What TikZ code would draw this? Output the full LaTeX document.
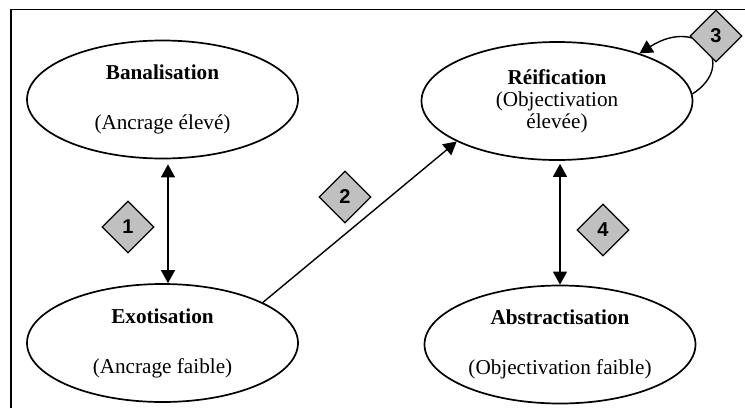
\documentclass[tikz,border=0pt]{standalone}
\usepackage{fontspec}
\setmainfont{Liberation Serif}
\newfontfamily\numfont{Liberation Sans}
\usepackage{tikz}
\usetikzlibrary{shapes}
\usetikzlibrary{arrows.meta}
\definecolor{gray}{RGB}{192,192,192}

\begin{document}
\begin{tikzpicture}[x=0.5pt,y=-0.5pt,>={Triangle[length=6.5pt,width=7pt]},
state/.style={ellipse,draw,line width=0.85pt,minimum width=135.5pt,minimum height=59pt,inner sep=0pt,align=center,font=\fontsize{10.6}{11}\selectfont},
num/.style={diamond,draw,fill=gray,line width=0.6pt,minimum width=26pt,minimum height=26pt,inner sep=0pt,font=\numfont\bfseries\fontsize{10}{10}\selectfont},
link/.style={line width=0.7pt}]

\useasboundingbox (0,0) rectangle (745,408);
\draw [line width=0.75pt] (11,408)-- (11,9.5)-- (745,9.5);

\node [state] (banal) at (162.5,99.5) {\textbf{Banalisation}\\[14pt](Ancrage élevé)};
\node [state] (exot) at (162.5,343) {\textbf{Exotisation}\\[14pt](Ancrage faible)};
\node [state] (reif) at (557,101) {\textbf{Réification}\\(Objectivation\\élevée)};
\node [state] (abst) at (560,344.5) {\textbf{Abstractisation}\\[14pt](Objectivation faible)};

\draw [link,<->,shorten <=2.5pt] ([xshift=2.75pt]banal.south)-- ([xshift=2.75pt]exot.north);
\draw [link,->] (exot.22)-- (reif.202);
\draw [link,->] (reif.3) .. controls (738,65) and (700,15) .. (reif.30);
\draw [link,<->,shorten <=1.5pt] (abst.north |- reif.south)-- (abst.north);

\node [num] (n1) at (128,227) {1};
\node [num] (n2) at (345,197) {2};
\node [num] (n3) at (716,36) {3};
\node [num] (n4) at (603,230) {4};
\end{tikzpicture}
\end{document}
